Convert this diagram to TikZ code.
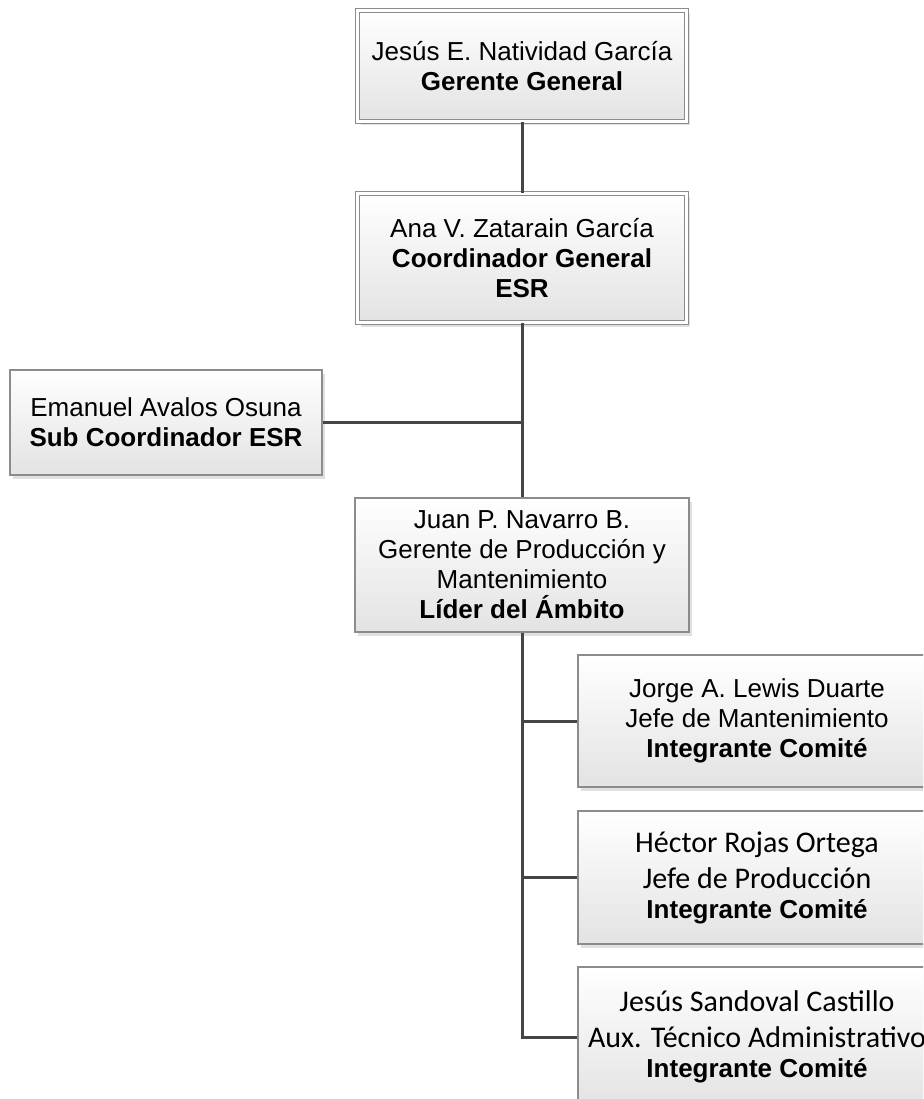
\documentclass[tikz,border=0pt]{standalone}
\usepackage{fontspec}
\setmainfont{Liberation Sans}
\newfontfamily\calfont{Carlito}
\usetikzlibrary{shadows}
\definecolor{linecol}{HTML}{454545}
\definecolor{boxborder}{HTML}{8C8C8C}
\tikzset{
  card/.style={draw=boxborder, line width=1.2pt, top color=white, bottom color=black!11,
    drop shadow={shadow xshift=3pt, shadow yshift=-4pt, fill=black!20, opacity=0.6},
    align=center, inner sep=0pt, font=\fontsize{26}{30}\selectfont},
  dcard/.style={card, double=white, double distance=3.5pt, line width=1pt},
  link/.style={draw=linecol, line width=3pt}
}
\newcommand{\calline}[1]{{\calfont\fontsize{30}{30}\selectfont #1}}
\begin{document}
\begin{tikzpicture}[x=1pt,y=-1pt]
\useasboundingbox (0,0) rectangle (923,1099);
\clip (0,0) rectangle (923,1099);
\node[dcard, minimum width=329pt, minimum height=111pt] (gg) at (522,66)
  {Jesús E. Natividad García\\\textbf{Gerente General}};
\node[dcard, minimum width=329pt, minimum height=129pt] (cg) at (522,258)
  {Ana V. Zatarain García\\\textbf{Coordinador General}\\\textbf{ESR}};
\node[card, minimum width=312pt, minimum height=105pt] (sc) at (166,422.5)
  {Emanuel Avalos Osuna\\\textbf{Sub Coordinador ESR}};
\node[card, minimum width=334pt, minimum height=134pt] (lid) at (522,565)
  {Juan P. Navarro B.\\Gerente de Producción y\\Mantenimiento\\\textbf{Líder del Ámbito}};
\node[card, minimum width=358pt, minimum height=132pt] (jm) at (757,721)
  {Jorge A. Lewis Duarte\\Jefe de Mantenimiento\\\textbf{Integrante Comité}};
\node[card, minimum width=358pt, minimum height=133pt] (jp) at (757,877.5)
  {\calline{Héctor Rojas Ortega}\\[6pt]\calline{Jefe de Producción}\\\textbf{Integrante Comité}};
\node[card, minimum width=358pt, minimum height=140pt] (ax) at (757,1037)
  {\calline{Jesús Sandoval Castillo}\\[6pt]\calline{Aux. Técnico Administrativo}\\\textbf{Integrante Comité}};
\draw[link] (gg.south) -- (cg.north);
\draw[link] (cg.south) -- (lid.north);
\draw[link] (sc.east) -- (sc.east -| cg.south);
\draw[link] (lid.south) -- (lid.south |- ax.west) -- (ax.west);
\draw[link] (lid.south |- jm.west) -- (jm.west);
\draw[link] (lid.south |- jp.west) -- (jp.west);
\end{tikzpicture}
\end{document}
